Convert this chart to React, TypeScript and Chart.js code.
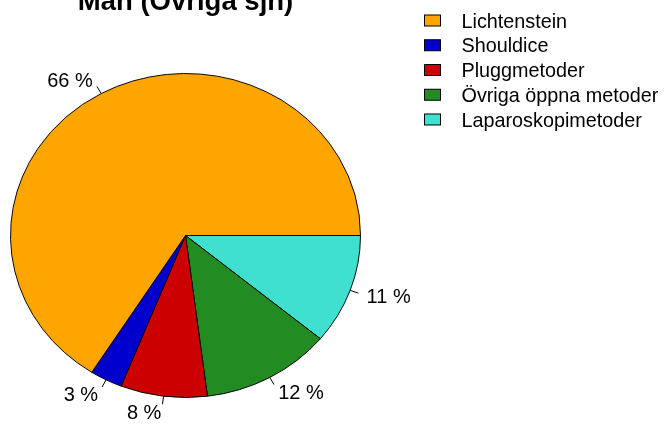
import React, { useEffect, useRef } from "react";
import { Chart, registerables } from "chart.js";

Chart.register(...registerables);

const title = "Män (Övriga sjh)";
const categories = [
  "Lichtenstein",
  "Shouldice",
  "Pluggmetoder",
  "Övriga öppna metoder",
  "Laparoskopimetoder",
];
const values = [66, 3, 8, 12, 11];
const percentLabels = ["66 %", "3 %", "8 %", "12 %", "11 %"];
const colors = ["#FFA500", "#0000CD", "#CD0000", "#228B22", "#40E0D0"];

const FONT = '"Liberation Sans", Arial, Helvetica, sans-serif';
const Y_SCALE = 162 / 175;

const piePlugin = {
  id: "rpie",
  beforeDatasetsDraw(chart: any) {
    const ctx = chart.ctx;
    const arc = chart.getDatasetMeta(0).data[0];
    ctx.save();
    ctx.translate(arc.x, arc.y);
    ctx.scale(1, Y_SCALE);
    ctx.translate(-arc.x, -arc.y);
  },
  afterDatasetsDraw(chart: any) {
    chart.ctx.restore();
  },
  afterDraw(chart: any) {
    const ctx = chart.ctx;
    const meta = chart.getDatasetMeta(0);
    const n = categories.length;
    ctx.save();
    // slice labels with tick marks
    ctx.font = `20px ${FONT}`;
    ctx.fillStyle = "#000";
    ctx.strokeStyle = "#000";
    ctx.lineWidth = 1;
    for (let i = 0; i < n; i++) {
      const arc: any = meta.data[n - 1 - i];
      const a = (arc.startAngle + arc.endAngle) / 2;
      const rx = arc.outerRadius;
      const ry = arc.outerRadius * Y_SCALE;
      const cx = arc.x;
      const cy = arc.y;
      const c = Math.cos(a);
      const s = Math.sin(a);
      ctx.beginPath();
      ctx.moveTo(cx + c * rx, cy + s * ry);
      ctx.lineTo(cx + c * rx * 1.05, cy + s * ry * 1.05);
      ctx.stroke();
      const lx = cx + c * rx * 1.1;
      const ly = cy + s * ry * 1.1;
      ctx.textAlign = c < 0 ? "right" : "left";
      ctx.textBaseline = "alphabetic";
      ctx.fillText(percentLabels[i], lx, ly + 7.2);
    }
    // title
    ctx.font = `bold 27.5px ${FONT}`;
    ctx.textAlign = "center";
    ctx.textBaseline = "alphabetic";
    ctx.fillText(title, 185.5, 10);
    // legend
    ctx.font = `19.8px ${FONT}`;
    ctx.textAlign = "left";
    for (let i = 0; i < n; i++) {
      const yc = 20.5 + i * 24.75;
      ctx.fillStyle = colors[i];
      ctx.fillRect(424.5, yc - 5.5, 16, 11);
      ctx.strokeStyle = "#000";
      ctx.strokeRect(424.5, yc - 5.5, 16, 11);
      ctx.fillStyle = "#000";
      ctx.fillText(categories[i], 461.5, yc + 7);
    }
    ctx.restore();
  },
};

export default function App() {
  const ref = useRef<HTMLCanvasElement | null>(null);
  useEffect(() => {
    if (!ref.current) return;
    const rev = <T,>(arr: T[]) => arr.slice().reverse();
    const chart = new Chart(ref.current, {
      type: "pie",
      data: {
        labels: rev(categories),
        datasets: [
          {
            data: rev(values),
            backgroundColor: rev(colors),
            borderColor: "#000",
            borderWidth: 1,
          },
        ],
      },
      options: {
        responsive: false,
        animation: false,
        rotation: 90,
        layout: { padding: { left: 10, right: 306, top: 60, bottom: 14 } },
        plugins: {
          legend: { display: false },
          title: { display: false },
          tooltip: { enabled: false },
        },
      },
      plugins: [piePlugin],
    } as any);
    return () => chart.destroy();
  }, []);
  return (
    <div style={{ position: "fixed", left: 0, top: 0, width: 667, height: 425, background: "#fff" }}>
      <canvas ref={ref} width={667} height={425} style={{ display: "block" }} />
    </div>
  );
}
